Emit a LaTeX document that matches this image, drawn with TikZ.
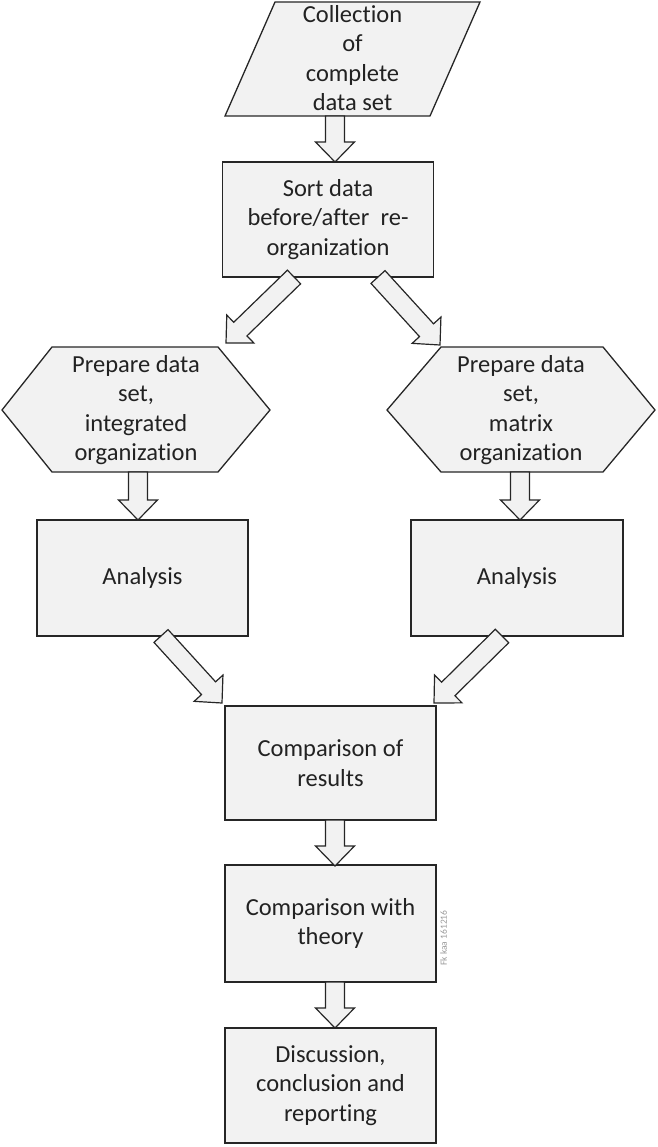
\documentclass[tikz,border=0pt]{standalone}
\usepackage{fontspec}
\setmainfont{Carlito}[Ligatures=NoCommon]
\usetikzlibrary{calc}
\definecolor{fillc}{HTML}{F2F2F2}
\definecolor{linec}{HTML}{262626}
\definecolor{textc}{HTML}{222222}
\newcommand{\blkarrow}[2]{%
  \coordinate (bah) at ($(#2)!20pt!(#1)$);
  \draw[blockarrow] ($(#1)!9.5pt!90:(#2)$) -- ($(bah)!9.5pt!90:(#2)$) -- ($(bah)!19.5pt!90:(#2)$) -- (#2)
     -- ($(bah)!19.5pt!-90:(#2)$) -- ($(bah)!9.5pt!-90:(#2)$) -- ($(#1)!9.5pt!-90:(#2)$) -- cycle;}
\tikzset{
  shapebox/.style={draw=linec, fill=fillc, line width=1.3pt, line join=miter},
  box/.style={shapebox, minimum width=211pt, minimum height=115pt, inner sep=0pt,
     align=center, text=textc, font=\fontsize{24.5}{29.5}\selectfont},
  txt/.style={align=center, inner sep=0pt, text=textc, font=\fontsize{24.5}{29.5}\selectfont},
  blockarrow/.style={draw=linec, fill=fillc, line width=1.2pt, line join=miter},
  tag/.style={rotate=90, inner sep=0pt, text=black!40, font=\fontsize{9.5}{10}\selectfont}
}
\begin{document}
\begin{tikzpicture}[x=1pt,y=-1pt]
\useasboundingbox (0,0) rectangle (657,1147);

% parallelogram
\draw[shapebox] (275,2) -- (480,2) -- (430,116) -- (225,116) -- cycle;
\node[txt] (collect) at (352.5,58) {Collection\\of\\complete\\data set};

% sort box
\node[box] (sort) at (328,219.5) {Sort data\\before/after\ \ re-\\organization};

% hexagons
\draw[shapebox] (2,410) -- (52,347) -- (218,347) -- (270,410) -- (218,472) -- (52,472) -- cycle;
\node[txt] (hexL) at (136,410) {Prepare data\\set,\\integrated\\organization};
\draw[shapebox] (387,410) -- (441,347) -- (603,347) -- (655,410) -- (603,472) -- (441,472) -- cycle;
\node[txt] (hexR) at (521,410) {Prepare data\\set,\\matrix\\organization};

% analysis boxes
\node[box, minimum width=211pt, minimum height=116pt] (anL) at (142.5,578) {Analysis};
\node[box, minimum width=212pt, minimum height=116pt] (anR) at (517,578) {Analysis};

% comparison boxes
\node[box, minimum height=114pt] (cmpR) at (330.5,763) {Comparison of\\results};
\node[box, minimum height=117pt] (cmpT) at (330.5,923.5) {Comparison with\\theory};
\node[box, minimum height=115pt] (disc) at (330.5,1085.5) {Discussion,\\conclusion and\\reporting};

\node[tag] (tagtxt) at (443.5,938) {Fk kaa 161216};

% connector end points
\coordinate (c1s) at (335,116);   \coordinate (c1e) at (335,162);
\coordinate (c2s) at (294,277);   \coordinate (c2e) at (226,343);
\coordinate (c3s) at (378,277);   \coordinate (c3e) at (440,345);
\coordinate (c4s) at (138,472);   \coordinate (c4e) at (138,520);
\coordinate (c5s) at (520,472);   \coordinate (c5e) at (520,520);
\coordinate (c6s) at (161,636);   \coordinate (c6e) at (222,703);
\coordinate (c7s) at (502,636);   \coordinate (c7e) at (434,703);
\coordinate (c8s) at (335,820);   \coordinate (c8e) at (335,866);
\coordinate (c9s) at (335,982);   \coordinate (c9e) at (335,1028);

\blkarrow{c1s}{c1e}
\blkarrow{c2s}{c2e}
\blkarrow{c3s}{c3e}
\blkarrow{c4s}{c4e}
\blkarrow{c5s}{c5e}
\blkarrow{c6s}{c6e}
\blkarrow{c7s}{c7e}
\blkarrow{c8s}{c8e}
\blkarrow{c9s}{c9e}
\end{tikzpicture}
\end{document}
